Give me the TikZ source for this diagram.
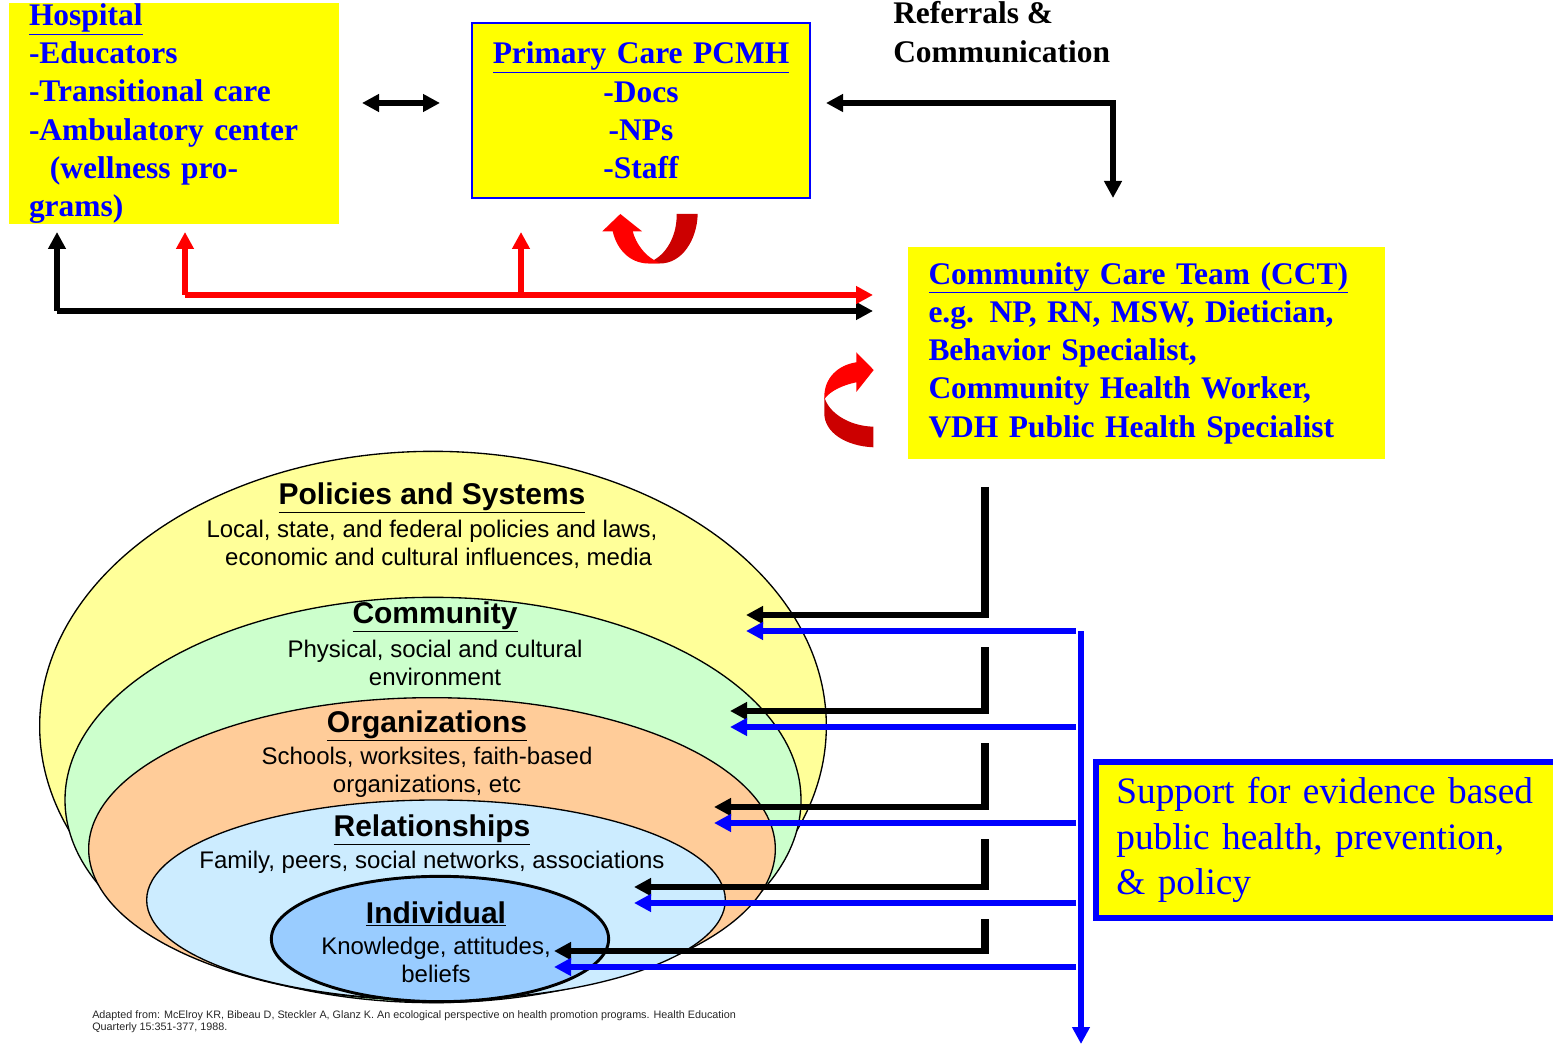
\documentclass[tikz,border=0pt]{standalone}
\usepackage{fontspec}
\setmainfont{Liberation Serif}
\setsansfont{Liberation Sans}
\usetikzlibrary{arrows.meta,shapes.geometric}
\definecolor{hiyellow}{RGB}{255,255,0}
\definecolor{pure}{RGB}{0,0,255}
\definecolor{darkred}{RGB}{204,0,0}
\definecolor{ellyellow}{RGB}{255,255,153}
\definecolor{ellgreen}{RGB}{204,255,204}
\definecolor{ellorange}{RGB}{255,204,153}
\definecolor{elllblue}{RGB}{204,236,255}
\definecolor{ellblue}{RGB}{153,204,255}
\newcommand{\boxfont}{\fontsize{23.6}{28.7}\selectfont\bfseries}
\newcommand{\elltitle}{\fontsize{22.5}{27}\selectfont\sffamily\bfseries}
\newcommand{\ellbody}{\fontsize{18}{21}\selectfont\sffamily}
\tikzset{
  x=0.75pt, y=-0.75pt,
  yellowbox/.style={fill=hiyellow, text=pure, font=\boxfont, inner ysep=0pt, inner xsep=0pt, outer sep=0pt, anchor=center},
  ell/.style={ellipse, draw=black, line width=1pt, inner sep=0pt, outer sep=0pt},
  elltext/.style={align=center, inner sep=0pt, anchor=center},
  conn/.style={line width=4.5pt, line cap=butt, miter limit=10},
  tipped/.style={-{Triangle[length=12.75pt,width=12.75pt]}},
  both/.style={{Triangle[length=12.75pt,width=12.75pt]}-{Triangle[length=12.75pt,width=12.75pt]}},
  blackline/.style={conn, draw=black},
  redline/.style={conn, draw=red},
  blueline/.style={conn, draw=pure},
  stem/.style={line width=6pt, draw=black},
}
\begin{document}
\begin{tikzpicture}
\clip (0,0) rectangle (1553,1044);
% ecological ellipses
\node[ell, fill=ellyellow, minimum width=590pt, minimum height=412pt] (policies) at (433,726) {};
\node[ell, fill=ellgreen, minimum width=552pt, minimum height=304pt] (community) at (433,800) {};
\node[ell, fill=ellorange, minimum width=515pt, minimum height=227pt] (organizations) at (432,849) {};
\node[ell, fill=elllblue, minimum width=434pt, minimum height=150pt] (relationships) at (436,900) {};
\node[ell, fill=ellblue, line width=2.2pt, minimum width=253pt, minimum height=94pt] (individual) at (440,939) {};
% ellipse texts
\node[elltext, font=\elltitle] (t1) at (432,498) {\underline{Policies and Systems}};
\node[elltext, font=\ellbody] (b1) at (432,544) {Local, state, and federal policies and laws,\\\ \ economic and cultural influences, media};
\node[elltext, font=\elltitle] (t2) at (435,617) {\underline{Community}};
\node[elltext, font=\ellbody] (b2) at (435,663) {Physical, social and cultural\\environment};
\node[elltext, font=\elltitle] (t3) at (427,726) {\underline{Organizations}};
\node[elltext, font=\ellbody] (b3) at (427,772) {Schools, worksites, faith-based\\organizations, etc};
\node[elltext, font=\elltitle] (t4) at (432,830) {\underline{Relationships}};
\node[elltext, font=\ellbody] (b4) at (432,862) {Family, peers, social networks, associations};
\node[elltext, font=\elltitle] (t5) at (436,914) {\underline{Individual}};
\node[elltext, font=\ellbody] (b5) at (436,960) {Knowledge, attitudes,\\beliefs};
% yellow boxes
\node[yellowbox, minimum width=247.5pt, minimum height=158.25pt, text width=217.5pt, align=left] (hospital) at (174,113.5)
  {\underline{Hospital}\\-Educators\\-Transitional care\\-Ambulatory center\\\ \ (wellness programs)};
\node[yellowbox, draw=pure, line width=1.5pt, minimum width=253.5pt, minimum height=131.25pt, text width=240pt, align=center] (pcmh) at (641,110.5)
  {\underline{Primary Care PCMH}\\-Docs\\-NPs\\-Staff};
\node[yellowbox, minimum width=357.75pt, minimum height=159pt, text width=327pt, align=left] (cct) at (1146.5,353)
  {\underline{Community Care Team (CCT)}\\e.g. NP, RN, MSW, Dietician,\\Behavior Specialist,\\Community Health Worker,\\VDH Public Health Specialist};
\node[draw=pure, line width=4.5pt, fill=hiyellow, text=pure, inner sep=0pt, outer sep=0pt,
  minimum width=355pt, minimum height=117pt, text width=325pt, align=left,
  font=\fontsize{28}{34}\selectfont] (support) at (1333,840)
  {Support for evidence based\\public health, prevention,\\\& policy};
\node[inner sep=0pt, anchor=north west, align=left, font=\boxfont] (referrals) at (893,1.5) {Referrals \&\\Communication};
\node[inner sep=0pt, anchor=north west, align=left, text=black!85, font=\fontsize{8.1}{9.6}\selectfont\sffamily] (source) at (92,1010)
  {Adapted from: McElroy KR, Bibeau D, Steckler A, Glanz K. An ecological perspective on health promotion programs. Health Education\\Quarterly 15:351-377, 1988.};
% named connector ends
\coordinate (hl) at (362,103); \coordinate (hr) at (440,103);
\coordinate (rtl) at (826,103); \coordinate (rtc) at (1113,103); \coordinate (rtd) at (1113,198);
\coordinate (bku) at (57,232); \coordinate (bkc) at (57,311); \coordinate (bke) at (873,311);
\coordinate (rdu) at (185,232); \coordinate (rdc) at (185,295); \coordinate (rde) at (873,295);
\coordinate (rmu) at (521,232); \coordinate (rmc) at (521,295);
\coordinate (s1) at (985,487); \coordinate (e1) at (985,618); \coordinate (c1) at (985,615); \coordinate (a1) at (746,615);
\coordinate (s2) at (985,647); \coordinate (e2) at (985,714); \coordinate (c2) at (985,711); \coordinate (a2) at (730,711);
\coordinate (s3) at (985,743); \coordinate (e3) at (985,810); \coordinate (c3) at (985,807); \coordinate (a3) at (714,807);
\coordinate (s4) at (985,839); \coordinate (e4) at (985,890); \coordinate (c4) at (985,887); \coordinate (a4) at (634,887);
\coordinate (s5) at (985,919); \coordinate (e5) at (985,954); \coordinate (c5) at (985,951); \coordinate (a5) at (554,951);
\coordinate (u1) at (1076,631); \coordinate (v1) at (746,631);
\coordinate (u2) at (1076,727); \coordinate (v2) at (730,727);
\coordinate (u3) at (1076,823); \coordinate (v3) at (714,823);
\coordinate (u4) at (1076,903); \coordinate (v4) at (634,903);
\coordinate (u5) at (1076,967); \coordinate (v5) at (554,967);
\coordinate (bt) at (1081,631); \coordinate (bb) at (1081,1044);
% connectors
\draw[blackline, both] (hl) -- (hr);
\draw[blackline, both] (rtl) -- (rtc) -- (rtd);
\draw[blackline, tipped] (bkc) -- (bke);
\draw[blackline, tipped] (bkc) -- (bku);
\draw[redline, tipped] (rdc) -- (rde);
\draw[redline, tipped] (rdc) -- (rdu);
\draw[redline, tipped] (rmc) -- (rmu);
\foreach \i in {1,...,5} {
  \draw[stem] (s\i) -- (e\i);
  \draw[blackline, tipped] (c\i) -- (a\i);
  \draw[blueline, tipped] (u\i) -- (v\i);
}
\draw[blueline, tipped] (bt) -- (bb);
% curved arrow under the PCMH box
\fill[darkred] (676.7,214) -- (697.7,214) .. controls (697,240) and (682,263.5) .. (660,263.5)
  -- (648,263.5) -- (654,260) .. controls (668,252) and (677,234) .. (676.7,214) -- cycle;
\fill[red] (620.3,214) -- (642,231.3) -- (632.7,231.3) .. controls (636,244) and (645,255) .. (654,260)
  -- (660,263.5) -- (648,263.5) .. controls (630,263) and (617,250) .. (612.7,231.3) -- (602.3,231.3) -- cycle;
% curved arrow beside the CCT box
\fill[darkred] (824.3,396.7) .. controls (828,412) and (848,426) .. (873.3,426.7) -- (873.3,447.3)
  .. controls (845,446) and (824.3,432) .. (824.3,413.3) -- cycle;
\fill[red] (873.7,370) -- (856.3,392) -- (856.3,382.3) .. controls (843,385) and (830,391) .. (824.5,399)
  -- (824.3,396.7) .. controls (824.3,378) and (838,365) .. (856.3,362.3) -- (856.3,352.3) -- cycle;
\end{tikzpicture}
\end{document}
